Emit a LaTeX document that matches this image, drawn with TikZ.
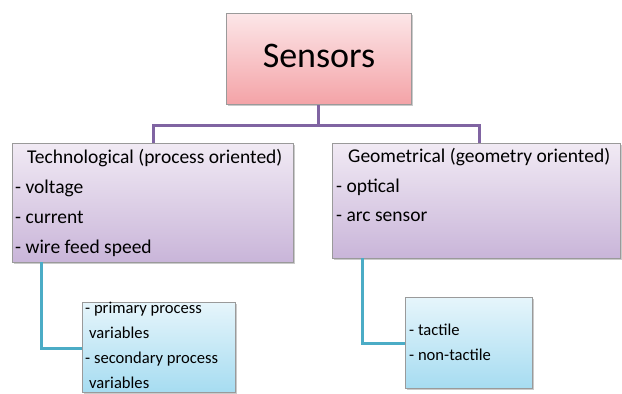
\documentclass[tikz,border=0pt]{standalone}
\usepackage{fontspec}
\setmainfont{Carlito}
\usetikzlibrary{shadows}
\definecolor{pinkT}{HTML}{FCE6E8}
\definecolor{pinkB}{HTML}{F4A3A7}
\definecolor{purT}{HTML}{F1EAF4}
\definecolor{purB}{HTML}{C9B5D9}
\definecolor{bluT}{HTML}{E6F5FB}
\definecolor{bluB}{HTML}{A6DCF1}
\definecolor{purLine}{HTML}{8064A2}
\definecolor{tealLine}{HTML}{4BACC6}
\definecolor{edgeGray}{HTML}{9A9A9A}
\tikzset{
  boxbase/.style={draw=edgeGray, line width=0.8pt, inner sep=0pt, anchor=north west,
    drop shadow={shadow xshift=2pt, shadow yshift=-2pt, fill=black!35, opacity=0.6}},
  pinkbox/.style={boxbase, top color=pinkT, bottom color=pinkB},
  purbox/.style={boxbase, top color=purT, bottom color=purB},
  blubox/.style={boxbase, top color=bluT, bottom color=bluB},
  txt/.style={anchor=base west, inner sep=0pt, font=\fontsize{19.5}{22}\selectfont},
  stxt/.style={anchor=base west, inner sep=0pt, font=\fontsize{16.6}{19}\selectfont},
  purconn/.style={draw=purLine, line width=3pt},
  tealconn/.style={draw=tealLine, line width=3pt},
}
\begin{document}
\begin{tikzpicture}[x=1pt,y=-1pt]
\useasboundingbox (0,0) rectangle (622,394);
\coordinate (hL) at (153,125);
\coordinate (hR) at (479,125);
\coordinate (hM) at (318,125);
% boxes
\node[pinkbox, minimum width=185pt, minimum height=91pt] (sensors) at (226,13) {};
\node[purbox, minimum width=281pt, minimum height=119pt] (tech) at (12,143) {};
\node[purbox, minimum width=288pt, minimum height=115pt] (geo) at (332,143) {};
\node[blubox, minimum width=153pt, minimum height=90pt] (prim) at (82,302) {};
\node[blubox, minimum width=127pt, minimum height=91pt] (tact) at (405,297) {};
% connectors
\draw[purconn] (sensors.south) -- (sensors.south |- hM) ;
\draw[purconn, line cap=rect] (hL) -- (hR);
\draw[purconn] (hL) -- (tech.north -| hL);
\draw[purconn] (hR) -- (geo.north -| hR);
\draw[tealconn] (41,262) coordinate (tl) -- (tl |- 0,348) -- (prim.west |- 0,348);
\draw[tealconn] (362,258) coordinate (tr) -- (tr |- 0,343) -- (tact.west |- 0,343);
% texts
\node[anchor=base, inner sep=0pt, font=\fontsize{36}{42}\selectfont] (tS) at (319,67) {Sensors};
\node[txt] (t1) at (27,163) {Technological (process oriented)};
\node[txt] (t2) at (15,193) {- voltage};
\node[txt] (t3) at (15,223) {- current};
\node[txt] (t4) at (15,253) {- wire feed speed};
\node[txt] (g1) at (348,162) {Geometrical (geometry oriented)};
\node[txt] (g2) at (336,192) {- optical};
\node[txt] (g3) at (336,221) {- arc sensor};
\node[stxt] (p1) at (85,313) {- primary process};
\node[stxt] (p2) at (89,338) {variables};
\node[stxt] (p3) at (85,363) {- secondary process};
\node[stxt] (p4) at (89,388) {variables};
\node[stxt] (c1) at (409,335) {- tactile};
\node[stxt] (c2) at (409,360) {- non-tactile};
\end{tikzpicture}
\end{document}
